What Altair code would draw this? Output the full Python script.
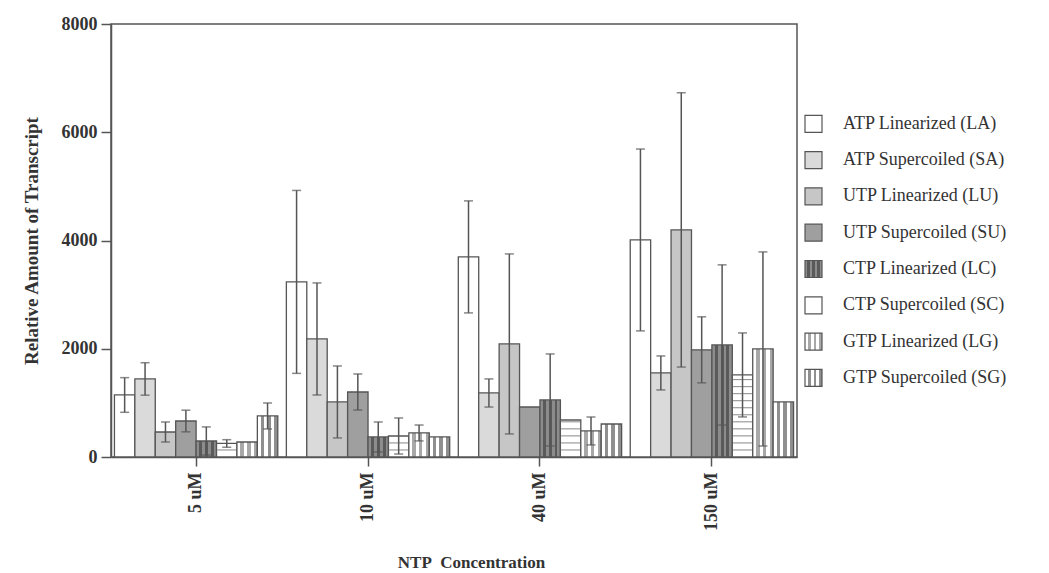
import altair as alt
import pandas as pd

concentrations = ["5 uM", "10 uM", "40 uM", "150 uM"]
codes = ["LA", "SA", "LU", "SU", "LC", "SC", "LG", "SG"]
labels = [
    "ATP Linearized (LA)", "ATP Supercoiled (SA)", "UTP Linearized (LU)",
    "UTP Supercoiled (SU)", "CTP Linearized (LC)", "CTP Supercoiled (SC)",
    "GTP Linearized (LG)", "GTP Supercoiled (SG)",
]

# mean values per series, in order of concentrations
la_values = [1146, 3235, 3697, 4010]
sa_values = [1442, 2181, 1183, 1553]
lu_values = [462, 1017, 2089, 4196]
su_values = [665, 1201, 924, 1980]
lc_values = [296, 370, 1054, 2070]
sc_values = [250, 388, 684, 1516]
lg_values = [277, 444, 481, 1996]
sg_values = [758, 370, 610, 1017]

# error (half-length of the error bar); 0 = no bar drawn
la_err = [320, 1690, 1035, 1680]
sa_err = [300, 1035, 260, 314]
lu_err = [185, 665, 1663, 2534]
su_err = [200, 333, 0, 610]
lc_err = [260, 277, 850, 1480]
sc_err = [70, 333, 0, 776]
lg_err = [0, 147, 258, 1793]
sg_err = [240, 0, 0, 0]

all_values = [la_values, sa_values, lu_values, su_values, lc_values, sc_values, lg_values, sg_values]
all_err = [la_err, sa_err, lu_err, su_err, lc_err, sc_err, lg_err, sg_err]

rows = []
for code, label, vals, errs in zip(codes, labels, all_values, all_err):
    for conc, v, e in zip(concentrations, vals, errs):
        rows.append({"conc": conc, "code": code, "label": label, "value": v,
                     "err": e, "lo": v - e, "hi": v + e})
df = pd.DataFrame(rows)

# horizontal stripe lines for the CTP Supercoiled pattern, derived from the values
stripe_rows = []
for conc, v in zip(concentrations, sc_values):
    lvl = 130
    while lvl < v - 30:
        stripe_rows.append({"conc": conc, "code": "SC", "level": lvl})
        lvl += 130
stripes_df = pd.DataFrame(stripe_rows)

LINE = "#555555"
TEXT = "#333333"
FONT = "Liberation Serif"


def vstripes(c1, c2, n):
    stops = []
    for k in range(n):
        col = c1 if k % 2 == 0 else c2
        stops.append(alt.GradientStop(color=col, offset=k / n))
        stops.append(alt.GradientStop(color=col, offset=(k + 1) / n))
    return alt.Gradient(gradient="linear", stops=stops, x1=0, x2=1, y1=0, y2=0)


fills = {
    "LA": "#ffffff",
    "SA": "#dadada",
    "LU": "#c6c6c6",
    "SU": "#9f9f9f",
    "LC": vstripes("#8c8c8c", "#5a5a5a", 7),
    "SC": "#ffffff",
    "LG": vstripes("#ffffff", "#a8a8a8", 6),
    "SG": vstripes("#ffffff", "#8f8f8f", 6),
}

x_scale = alt.Scale(domain=concentrations, paddingInner=0.05, paddingOuter=0.02)
off_scale = alt.Scale(domain=codes, paddingInner=0, paddingOuter=0)
y_scale = alt.Scale(domain=[0, 8000], nice=False)


def X():
    return alt.X("conc:N", scale=x_scale, sort=concentrations,
                 title="NTP\u00a0 Concentration",
                 axis=alt.Axis(labelAngle=-90, tickSize=9, labelPadding=6,
                               titlePadding=24, titleFontSize=17,
                               titleX=360, titleAlign="center"))


def XO():
    return alt.XOffset("code:N", scale=off_scale)


def Y(field):
    return alt.Y(field, scale=y_scale, title="Relative Amount of Transcript",
                 axis=alt.Axis(values=[0, 2000, 4000, 6000, 8000], format="d",
                               tickSize=10, labelPadding=4, titlePadding=20,
                               titleFontSize=19, grid=False))


layers = []
for code in codes:
    layers.append(
        alt.Chart(df).transform_filter(alt.datum.code == code)
        .mark_bar(fill=fills[code], stroke=LINE, strokeWidth=1.3)
        .encode(x=X(), xOffset=XO(), y=Y("value:Q"))
    )

stripes = alt.Chart(stripes_df).mark_tick(color=LINE, thickness=1, size=19, orient="horizontal").encode(
    x=X(), xOffset=XO(), y=Y("level:Q"))

err_df = df[df["err"] > 0]
err_rule = alt.Chart(err_df).mark_rule(color=LINE, strokeWidth=1.5).encode(
    x=X(), xOffset=XO(), y=Y("lo:Q"), y2="hi:Q")
cap_hi = alt.Chart(err_df).mark_tick(color=LINE, thickness=1.5, size=9, orient="horizontal").encode(
    x=X(), xOffset=XO(), y=Y("hi:Q"))
cap_lo = alt.Chart(err_df).mark_tick(color=LINE, thickness=1.5, size=9, orient="horizontal").encode(
    x=X(), xOffset=XO(), y=Y("lo:Q"))

main = alt.layer(*layers, stripes, err_rule, cap_hi, cap_lo).properties(
    width=686, height=433,
    view=alt.ViewBackground(stroke=LINE, strokeWidth=1.5),
)

# custom legend with the same fills
leg_df = pd.DataFrame({"code": codes, "label": labels, "idx": list(range(len(codes)))})
leg_y = alt.Y("idx:Q", axis=None,
              scale=alt.Scale(domain=[-2.75, 9.18], reverse=True, nice=False, zero=False))
leg_layers = []
for code in codes:
    leg_layers.append(
        alt.Chart(leg_df).transform_filter(alt.datum.code == code)
        .mark_square(fill=fills[code], stroke=LINE, strokeWidth=1.2, size=289, opacity=1)
        .encode(x=alt.value(15.5), y=leg_y)
    )
leg_text = alt.Chart(leg_df).mark_text(align="left", baseline="middle", font=FONT,
                                       fontSize=18, color=TEXT).encode(
    x=alt.value(45), y=leg_y, text="label:N")
legend = alt.layer(*leg_layers, leg_text).properties(width=228, height=433)

chart = alt.hconcat(main, legend, spacing=0).properties(
    padding={"left": 13, "top": 6, "right": 0, "bottom": 0},
    background="white",
).configure_view(stroke=None).configure_axis(
    labelFont=FONT, titleFont=FONT, labelFontSize=18, titleFontSize=18,
    labelFontWeight="bold", titleFontWeight="bold", labelColor=TEXT, titleColor=TEXT,
    domainColor=LINE, tickColor=LINE, domainWidth=1.5, tickWidth=1.5,
)

chart.save("out.html", embed_options={"renderer": "svg", "actions": False})
